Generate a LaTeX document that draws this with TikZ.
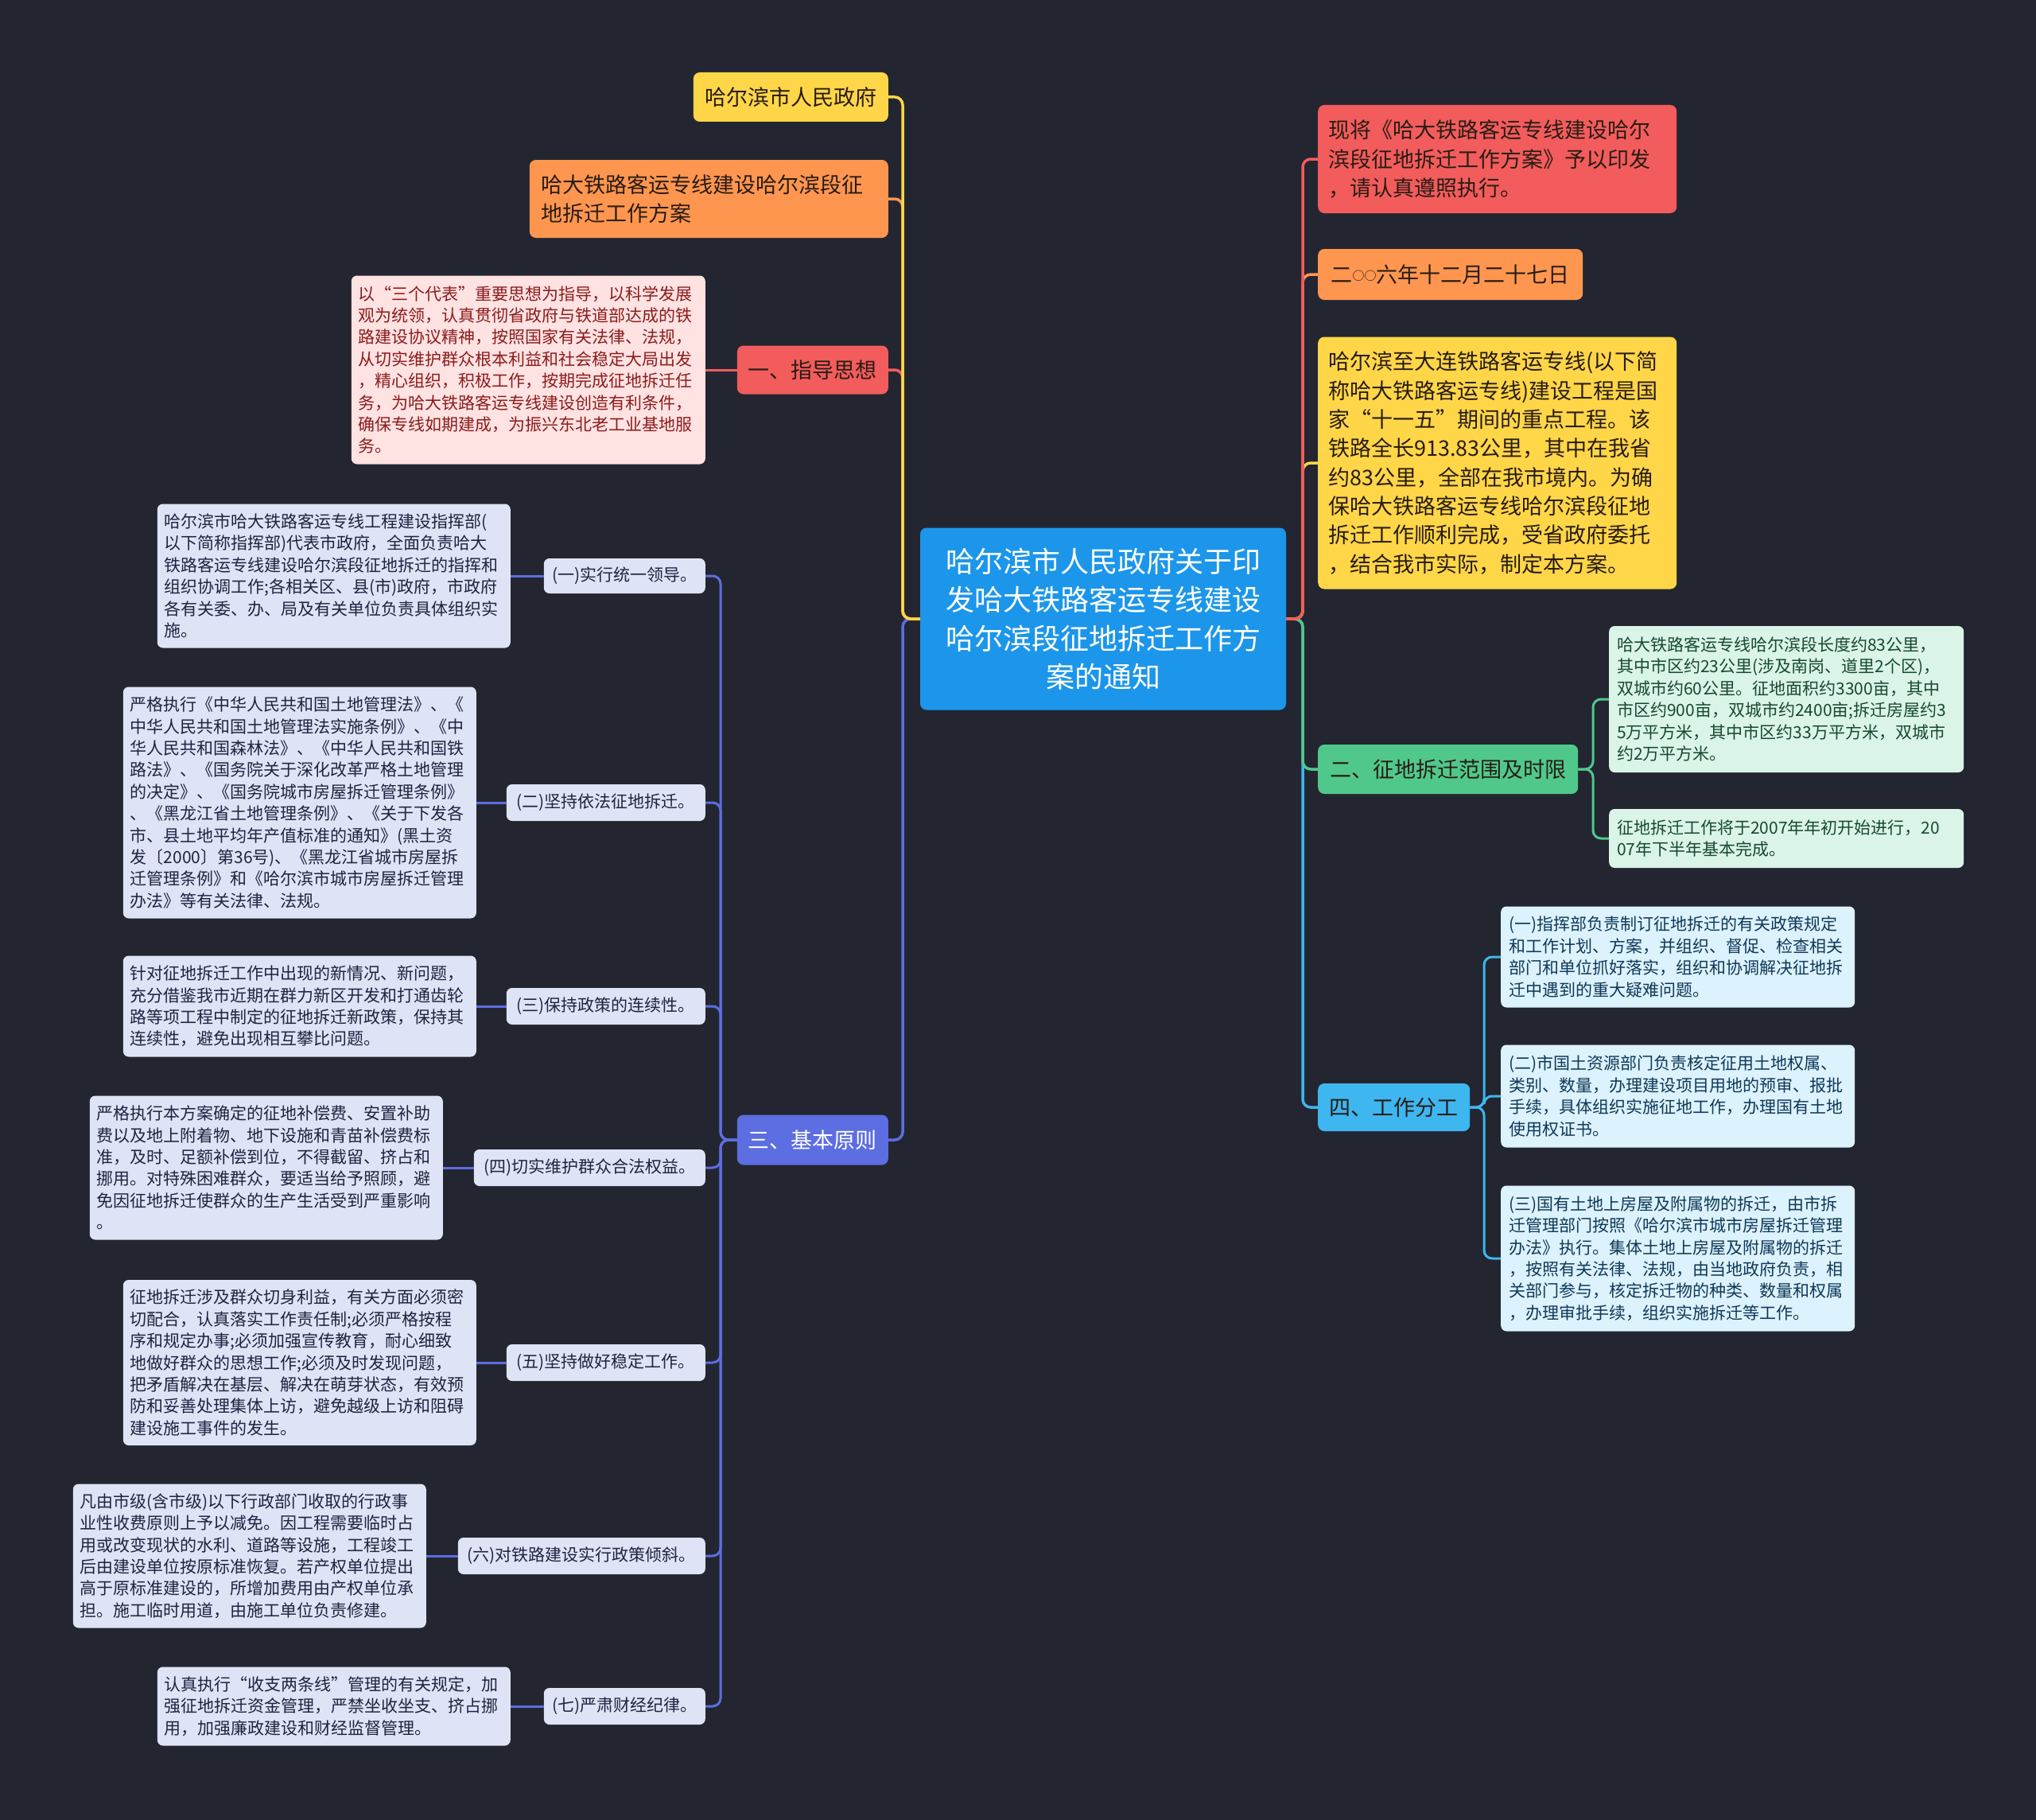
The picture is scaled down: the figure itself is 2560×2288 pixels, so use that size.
\documentclass[tikz,border=0pt]{standalone}
\usepackage{fontspec}
\setmainfont{Noto Sans CJK SC}
\definecolor{bg}{RGB}{35,38,48}
\definecolor{cblue}{RGB}{28,150,234}
\definecolor{cyellow}{RGB}{255,214,72}
\definecolor{corange}{RGB}{255,150,80}
\definecolor{cred}{RGB}{242,92,92}
\definecolor{cindigo}{RGB}{92,110,225}
\definecolor{cgreen}{RGB}{80,200,140}
\definecolor{clblue}{RGB}{62,182,240}
\definecolor{descfill}{RGB}{223,227,246}
\definecolor{desctext}{RGB}{30,36,64}
\definecolor{pinkfill}{RGB}{255,226,226}
\definecolor{pinktext}{RGB}{139,28,28}
\definecolor{gfill}{RGB}{218,244,232}
\definecolor{gtext}{RGB}{24,72,48}
\definecolor{wfill}{RGB}{220,242,252}
\definecolor{wtext}{RGB}{16,56,88}
\definecolor{darktext}{RGB}{40,28,20}
\tikzset{
  base/.style={rounded corners=7pt, inner sep=0pt, font=\fontsize{21}{27.4}\selectfont},
  desc/.style={base, fill=descfill, text=desctext, align=left, anchor=east, minimum width=444pt, text width=426pt},
  lab/.style={base, fill=descfill, text=desctext, align=center, anchor=east, minimum height=46pt},
  pinkbox/.style={base, fill=pinkfill, text=pinktext, align=left, anchor=east, minimum width=445pt, text width=427pt},
  gbox/.style={base, fill=gfill, text=gtext, align=left, anchor=west, minimum width=446pt, text width=426pt},
  wbox/.style={base, fill=wfill, text=wtext, align=left, anchor=west, minimum width=445pt, text width=425pt},
  big/.style={rounded corners=8pt, inner sep=0pt, font=\fontsize{27}{36.3}\selectfont, text=darktext},
  conn/.style={line width=3.5pt, rounded corners=10pt},
  sub/.style={line width=3pt, rounded corners=10pt},
}
\begin{document}
\begin{tikzpicture}[x=1pt,y=-1pt]
\useasboundingbox (0,0) rectangle (2560,2288);
\fill[bg] (0,0) rectangle (2560,2288);

% central
\node[rounded corners=8pt, inner sep=0pt, fill=cblue, text=white, align=center, text width=440pt,
  minimum width=460pt, minimum height=229pt, font=\fontsize{36}{48.5}\selectfont] (C) at (1387,778)
  {哈尔滨市人民政府关于印\\发哈大铁路客运专线建设\\哈尔滨段征地拆迁工作方\\案的通知};

% left main nodes
\node[big, fill=cyellow, anchor=east, minimum width=245pt, minimum height=62pt] (A1) at (1117,122) {哈尔滨市人民政府};
\node[big, fill=corange, anchor=east, minimum width=451pt, minimum height=98pt, align=left, text width=421pt] (A2) at (1117,250)
  {哈大铁路客运专线建设哈尔滨段征\\地拆迁工作方案};
\node[big, fill=cred, anchor=east, minimum width=190pt, minimum height=61pt] (A3) at (1117,465) {一、指导思想};
\node[big, fill=cindigo, text=white, anchor=east, minimum width=190pt, minimum height=63pt] (A4) at (1117,1433) {三、基本原则};

\node[pinkbox, minimum height=237pt] (P) at (887,465)
  {以“三个代表”重要思想为指导，以科学发展\\观为统领，认真贯彻省政府与铁道部达成的铁\\路建设协议精神，按照国家有关法律、法规，\\从切实维护群众根本利益和社会稳定大局出发\\，精心组织，积极工作，按期完成征地拆迁任\\务，为哈大铁路客运专线建设创造有利条件，\\确保专线如期建成，为振兴东北老工业基地服\\务。};

% labels
\node[lab, minimum width=203pt, minimum height=44pt] (B1) at (887,724) {(一)实行统一领导。};
\node[lab, minimum width=250pt] (B2) at (887,1009) {(二)坚持依法征地拆迁。};
\node[lab, minimum width=250pt] (B3) at (887,1265) {(三)保持政策的连续性。};
\node[lab, minimum width=291pt] (B4) at (887,1468) {(四)切实维护群众合法权益。};
\node[lab, minimum width=250pt] (B5) at (887,1713) {(五)坚持做好稳定工作。};
\node[lab, minimum width=311pt] (B6) at (887,1956) {(六)对铁路建设实行政策倾斜。};
\node[lab, minimum width=203pt] (B7) at (887,2145) {(七)严肃财经纪律。};

% descriptions
\node[desc, minimum height=181pt] (D1) at (642,724)
  {哈尔滨市哈大铁路客运专线工程建设指挥部(\\以下简称指挥部)代表市政府，全面负责哈大\\铁路客运专线建设哈尔滨段征地拆迁的指挥和\\组织协调工作;各相关区、县(市)政府，市政府\\各有关委、办、局及有关单位负责具体组织实\\施。};
\node[desc, minimum height=291pt] (D2) at (599,1009)
  {严格执行《中华人民共和国土地管理法》、《\\中华人民共和国土地管理法实施条例》、《中\\华人民共和国森林法》、《中华人民共和国铁\\路法》、《国务院关于深化改革严格土地管理\\的决定》、《国务院城市房屋拆迁管理条例》\\、《黑龙江省土地管理条例》、《关于下发各\\市、县土地平均年产值标准的通知》(黑土资\\发〔2000〕第36号)、《黑龙江省城市房屋拆\\迁管理条例》和《哈尔滨市城市房屋拆迁管理\\办法》等有关法律、法规。};
\node[desc, minimum height=127pt] (D3) at (599,1265)
  {针对征地拆迁工作中出现的新情况、新问题，\\充分借鉴我市近期在群力新区开发和打通齿轮\\路等项工程中制定的征地拆迁新政策，保持其\\连续性，避免出现相互攀比问题。};
\node[desc, minimum height=181pt] (D4) at (557,1468)
  {严格执行本方案确定的征地补偿费、安置补助\\费以及地上附着物、地下设施和青苗补偿费标\\准，及时、足额补偿到位，不得截留、挤占和\\挪用。对特殊困难群众，要适当给予照顾，避\\免因征地拆迁使群众的生产生活受到严重影响\\。};
\node[desc, minimum height=208pt] (D5) at (599,1713)
  {征地拆迁涉及群众切身利益，有关方面必须密\\切配合，认真落实工作责任制;必须严格按程\\序和规定办事;必须加强宣传教育，耐心细致\\地做好群众的思想工作;必须及时发现问题，\\把矛盾解决在基层、解决在萌芽状态，有效预\\防和妥善处理集体上访，避免越级上访和阻碍\\建设施工事件的发生。};
\node[desc, minimum height=181pt] (D6) at (536,1956)
  {凡由市级(含市级)以下行政部门收取的行政事\\业性收费原则上予以减免。因工程需要临时占\\用或改变现状的水利、道路等设施，工程竣工\\后由建设单位按原标准恢复。若产权单位提出\\高于原标准建设的，所增加费用由产权单位承\\担。施工临时用道，由施工单位负责修建。};
\node[desc, minimum height=99pt] (D7) at (642,2145)
  {认真执行“收支两条线”管理的有关规定，加\\强征地拆迁资金管理，严禁坐收坐支、挤占挪\\用，加强廉政建设和财经监督管理。};

% right main nodes
\node[big, fill=cred, anchor=west, minimum width=451pt, minimum height=136pt, align=left, text width=425pt] (R1) at (1657,200)
  {现将《哈大铁路客运专线建设哈尔\\滨段征地拆迁工作方案》予以印发\\，请认真遵照执行。};
\node[big, fill=corange, anchor=west, minimum width=333pt, minimum height=64pt] (R2) at (1657,345)
  {二{\fontsize{15}{15}\selectfont\raisebox{3pt}{○○}}六年十二月二十七日};
\node[big, fill=cyellow, anchor=west, minimum width=451pt, minimum height=317pt, align=left, text width=425pt] (R3) at (1657,582)
  {哈尔滨至大连铁路客运专线(以下简\\称哈大铁路客运专线)建设工程是国\\家“十一五”期间的重点工程。该\\铁路全长913.83公里，其中在我省\\约83公里，全部在我市境内。为确\\保哈大铁路客运专线哈尔滨段征地\\拆迁工作顺利完成，受省政府委托\\，结合我市实际，制定本方案。};
\node[big, fill=cgreen, anchor=west, minimum width=327pt, minimum height=62pt] (R4) at (1657,967) {二、征地拆迁范围及时限};
\node[big, fill=clblue, anchor=west, minimum width=191pt, minimum height=60pt] (R5) at (1657,1392) {四、工作分工};

\node[gbox, minimum height=184pt] (G1) at (2023,879)
  {哈大铁路客运专线哈尔滨段长度约83公里，\\其中市区约23公里(涉及南岗、道里2个区)，\\双城市约60公里。征地面积约3300亩，其中\\市区约900亩，双城市约2400亩;拆迁房屋约3\\5万平方米，其中市区约33万平方米，双城市\\约2万平方米。};
\node[gbox, minimum height=74pt] (G2) at (2023,1054)
  {征地拆迁工作将于2007年年初开始进行，20\\07年下半年基本完成。};

\node[wbox, minimum height=127pt] (W1) at (1887,1203)
  {(一)指挥部负责制订征地拆迁的有关政策规定\\和工作计划、方案，并组织、督促、检查相关\\部门和单位抓好落实，组织和协调解决征地拆\\迁中遇到的重大疑难问题。};
\node[wbox, minimum height=129pt] (W2) at (1887,1378)
  {(二)市国土资源部门负责核定征用土地权属、\\类别、数量，办理建设项目用地的预审、报批\\手续，具体组织实施征地工作，办理国有土地\\使用权证书。};
\node[wbox, minimum height=183pt] (W3) at (1887,1582)
  {(三)国有土地上房屋及附属物的拆迁，由市拆\\迁管理部门按照《哈尔滨市城市房屋拆迁管理\\办法》执行。集体土地上房屋及附属物的拆迁\\，按照有关法律、法规，由当地政府负责，相\\关部门参与，核定拆迁物的种类、数量和权属\\，办理审批手续，组织实施拆迁等工作。};

% connectors: left trunk
\draw[conn, cindigo] (A4.east) -| (1135,778) -- (C.west);
\draw[conn, cred] (A3.east) -| (1135,778) -- (C.west);
\draw[conn, corange] (A2.east) -| (1135,778) -- (C.west);
\draw[conn, cyellow] (A1.east) -| (1135,778) -- (C.west);
% right trunk
\draw[conn, clblue] (C.east) -- (1638,778) |- (R5.west);
\draw[conn, cgreen] (C.east) -- (1638,778) |- (R4.west);
\draw[conn, cyellow] (C.east) -- (1638,778) |- (R3.west);
\draw[conn, corange] (C.east) -- (1638,778) |- (R2.west);
\draw[conn, cred] (C.east) -- (1638,778) |- (R1.west);

% sub connectors
\draw[sub, cred] (A3.west) -- (P.east);
\foreach \b in {B1,B2,B3,B4,B5,B6,B7}{
  \draw[sub, cindigo] (A4.west) -- (906,1433) |- (\b.east);
}
\draw[sub, cindigo] (B1.west) -- (D1.east);
\draw[sub, cindigo] (B2.west) -- (D2.east);
\draw[sub, cindigo] (B3.west) -- (D3.east);
\draw[sub, cindigo] (B4.west) -- (D4.east);
\draw[sub, cindigo] (B5.west) -- (D5.east);
\draw[sub, cindigo] (B6.west) -- (D6.east);
\draw[sub, cindigo] (B7.west) -- (D7.east);

\draw[sub, cgreen] (R4.east) -- (2003,967) |- (G1.west);
\draw[sub, cgreen] (R4.east) -- (2003,967) |- (G2.west);

\draw[sub, clblue] (R5.east) -- (1866,1392) |- (W1.west);
\draw[sub, clblue] (R5.east) -- (1866,1392) |- (W2.west);
\draw[sub, clblue] (R5.east) -- (1866,1392) |- (W3.west);
\end{tikzpicture}
\end{document}
